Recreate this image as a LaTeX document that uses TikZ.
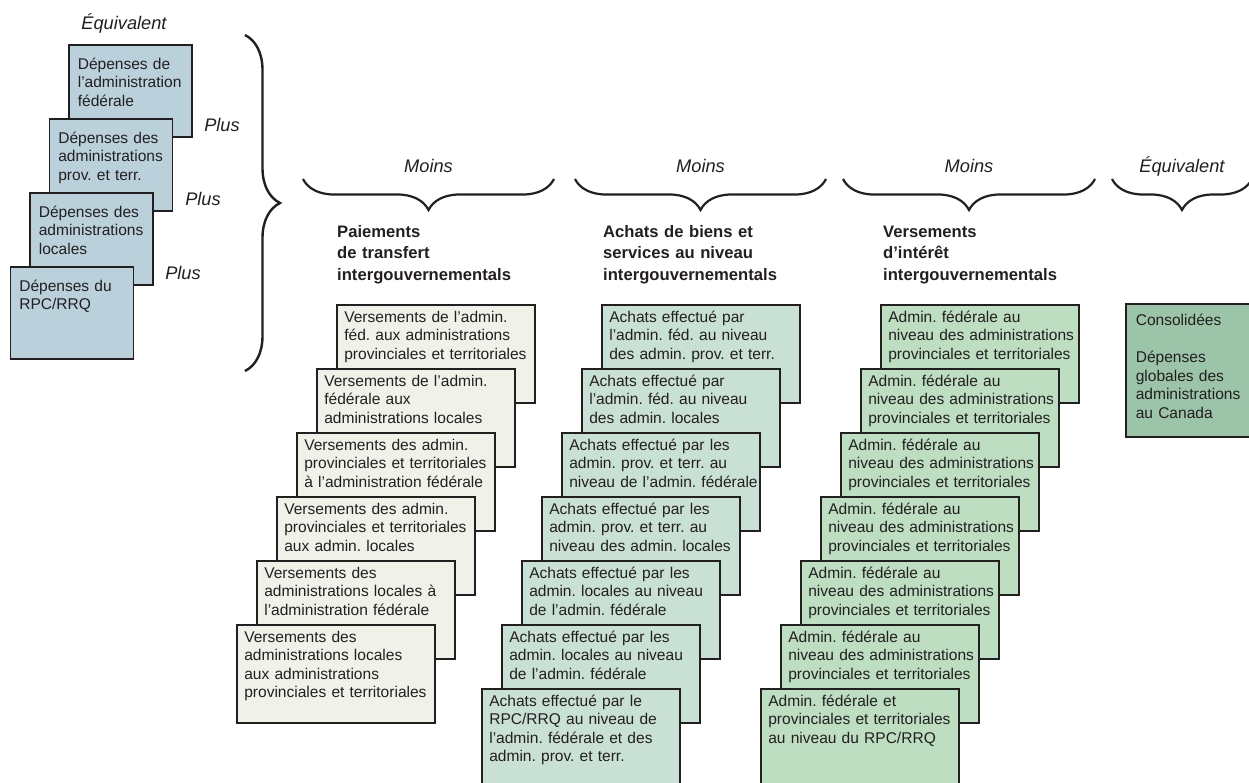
\documentclass[tikz,border=0pt]{standalone}
\usepackage{fontspec}
\setmainfont{Liberation Sans}
\usepackage{tikz}
\usetikzlibrary{decorations.pathreplacing}
\definecolor{Ink}{RGB}{35,31,32}
\definecolor{LBlue}{RGB}{186,209,219}
\definecolor{LBeige}{RGB}{240,241,233}
\definecolor{LTeal}{RGB}{201,224,213}
\definecolor{LGreen}{RGB}{189,222,193}
\definecolor{DGreen}{RGB}{156,196,168}
\frenchspacing
\newcommand{\boxfont}{\fontsize{15.6}{18.6}\selectfont}
\newcommand{\headfont}{\fontsize{16.7}{22}\selectfont\bfseries}
\newcommand{\wordfont}{\fontsize{18.3}{21}\selectfont\itshape}
\tikzset{
  card/.style={draw=Ink, line width=1.6bp, anchor=north west, align=left, inner ysep=0pt, font=\boxfont, text=Ink,
    execute at begin node={\rightskip=0pt plus 1fil minus 30bp}},
  depcard/.style={card, fill=LBlue, inner xsep=9bp, text width=105bp, text height=24.5bp, text depth=67.5bp},
  paycard/.style={card, fill=LBeige, inner xsep=7.5bp, text width=183bp, text height=17.5bp, text depth=80.5bp},
  buycard/.style={paycard, fill=LTeal},
  intcard/.style={paycard, fill=LGreen},
  totalcard/.style={card, fill=DGreen, inner xsep=10bp, text width=115bp, text height=22bp, text depth=111bp},
  heading/.style={anchor=base west, align=left, inner sep=0pt, text width=200bp, font=\headfont, text=Ink},
  word/.style={anchor=base, inner sep=0pt, font=\wordfont, text=Ink},
  hbrace/.style={draw=Ink, line width=2.2bp, decorate, decoration={brace, amplitude=31bp}},
  vbrace/.style={draw=Ink, line width=2.4bp, decorate, decoration={brace, amplitude=35bp}}
}

\begin{document}
\begin{tikzpicture}[x=1bp, y=-1bp]
\useasboundingbox (0,0) rectangle (1249,783);

\node[word] (eqleft) at (124,29.5) {Équivalent};
\node[depcard] (dep1) at (68,44) {Dépenses de\\l’administration\\fédérale};
\node[depcard] (dep2) at (48.5,118) {Dépenses des\\administrations\\prov. et terr.};
\node[depcard] (dep3) at (29,192) {Dépenses des\\administrations\\locales};
\node[depcard] (dep4) at (9.5,266) {Dépenses du\\RPC/RRQ};
\node[word] (plus1) at (222,131) {Plus};
\node[word] (plus2) at (203,205) {Plus};
\node[word] (plus3) at (183,279) {Plus};
\draw[vbrace] (245,35) -- (245,371);

\draw[hbrace] (554,179) -- (303,179);
\draw[hbrace] (826,179) -- (575,179);
\draw[hbrace] (1095,179) -- (843,179);
\draw[hbrace] (1252,179) -- (1112,179);
\node[word] (moins1) at (428.5,172) {Moins};
\node[word] (moins2) at (700.5,172) {Moins};
\node[word] (moins3) at (969,172) {Moins};
\node[word] (eqright) at (1182,172) {Équivalent};

\node[heading] (hpay) at (337,237) {Paiements\\de transfert\\intergouvernementals};
\node[heading] (hbuy) at (603,237) {Achats de biens et\\services au niveau\\intergouvernementals};
\node[heading] (hint) at (883,237) {Versements\\d’intérêt\\intergouvernementals};

\node[paycard] (pay1) at (336,304) {Versements de l’admin.\\féd. aux administrations\\provinciales et territoriales};
\node[paycard] (pay2) at (316,368) {Versements de l’admin.\\fédérale aux\\administrations locales};
\node[paycard] (pay3) at (296,432) {Versements des admin.\\provinciales et territoriales\\à l’administration fédérale};
\node[paycard] (pay4) at (276,496) {Versements des admin.\\provinciales et territoriales\\aux admin. locales};
\node[paycard] (pay5) at (256,560) {Versements des\\administrations locales à\\l’administration fédérale};
\node[paycard] (pay6) at (236,624) {Versements des\\administrations locales\\aux administrations\\provinciales et territoriales};

\node[buycard] (buy1) at (601,304) {Achats effectué par\\l’admin. féd. au niveau\\des admin. prov. et terr.};
\node[buycard] (buy2) at (581,368) {Achats effectué par\\l’admin. féd. au niveau\\des admin. locales};
\node[buycard] (buy3) at (561,432) {Achats effectué par les\\admin. prov. et terr. au\\niveau de l’admin. fédérale};
\node[buycard] (buy4) at (541,496) {Achats effectué par les\\admin. prov. et terr. au\\niveau des admin. locales};
\node[buycard] (buy5) at (521,560) {Achats effectué par les\\admin. locales au niveau\\de l’admin. fédérale};
\node[buycard] (buy6) at (501,624) {Achats effectué par les\\admin. locales au niveau\\de l’admin. fédérale};
\node[buycard] (buy7) at (481,688) {Achats effectué par le\\RPC/RRQ au niveau de\\l’admin. fédérale et des\\admin. prov. et terr.};

\node[intcard] (int1) at (880,304) {Admin. fédérale au\\niveau des administrations\\provinciales et territoriales};
\node[intcard] (int2) at (860,368) {Admin. fédérale au\\niveau des administrations\\provinciales et territoriales};
\node[intcard] (int3) at (840,432) {Admin. fédérale au\\niveau des administrations\\provinciales et territoriales};
\node[intcard] (int4) at (820,496) {Admin. fédérale au\\niveau des administrations\\provinciales et territoriales};
\node[intcard] (int5) at (800,560) {Admin. fédérale au\\niveau des administrations\\provinciales et territoriales};
\node[intcard] (int6) at (780,624) {Admin. fédérale au\\niveau des administrations\\provinciales et territoriales};
\node[intcard] (int7) at (760,688) {Admin. fédérale et\\provinciales et territoriales\\au niveau du RPC/RRQ};

\node[totalcard] (total) at (1125,303) {Consolidées\\[18.6bp]Dépenses\\globales des\\administrations\\au Canada};

\end{tikzpicture}
\end{document}
